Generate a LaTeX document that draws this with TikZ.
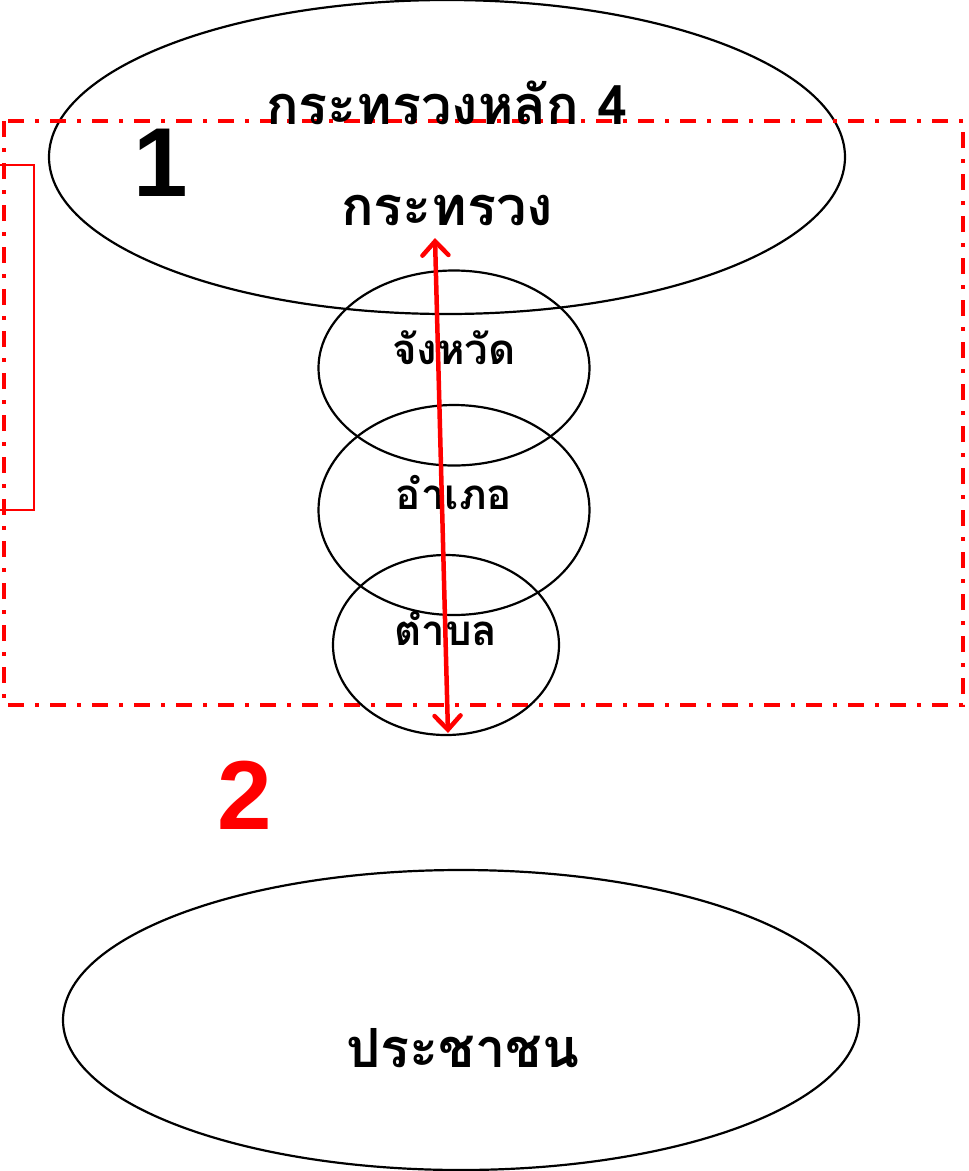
\documentclass[tikz,border=0pt]{standalone}
\usepackage{fontspec}
\setmainfont{Liberation Sans}
\newfontfamily\thaifont[Script=Thai]{Loma}
\usetikzlibrary{shapes.geometric,arrows.meta}
\begin{document}
\begin{tikzpicture}[x=1pt,y=-1pt,
  ring/.style={ellipse, draw, line width=2.2pt, inner sep=0pt},
  thai/.style={font=\thaifont\bfseries\fontsize{#1}{#1}\selectfont},
  bignum/.style={font=\bfseries\fontsize{98}{98}\selectfont}]
\useasboundingbox (0,0) rectangle (969,1171);
\node[ring, minimum width=796pt, minimum height=314pt] (ministry) at (447,157) {};
\node[ring, minimum width=796pt, minimum height=300pt] (people) at (461,1020) {};
\draw[red, line width=3.5pt, dash pattern=on 16pt off 11pt on 4pt off 11pt] (4,121) rectangle (963,705);
\draw[red, line width=2pt] (0,165) -- (34,165) -- (34,510) -- (0,510);
\node[ring, minimum width=271pt, minimum height=195pt] (province) at (454,368) {};
\node[ring, minimum width=271pt, minimum height=210pt] (district) at (454,510) {};
\node[ring, minimum width=226pt, minimum height=180pt] (subdistrict) at (446,645) {};
\node[thai=54] (title) at (447,103) {กระทรวงหลัก 4};
\node[thai=54] (ministrytext) at (447,210) {กระทรวง};
\node[thai=42] (provincetext) at (454,348) {จังหวัด};
\node[thai=42] (districttext) at (454,492) {อำเภอ};
\node[thai=42] (subdistricttext) at (446,628) {ตำบล};
\node[thai=54] (peopletext) at (463,1048) {ประชาชน};
\node[bignum] (one) at (161,163) {1};
\node[bignum, text=red] (two) at (245,795) {2};
\coordinate (top) at (435,238);
\coordinate (bottom) at (448,733);
\draw[red, line width=4.5pt, {Straight Barb[length=14pt,width=26pt,line cap=round]}-{Straight Barb[length=14pt,width=26pt,line cap=round]}] (top) -- (bottom);
\end{tikzpicture}
\end{document}
